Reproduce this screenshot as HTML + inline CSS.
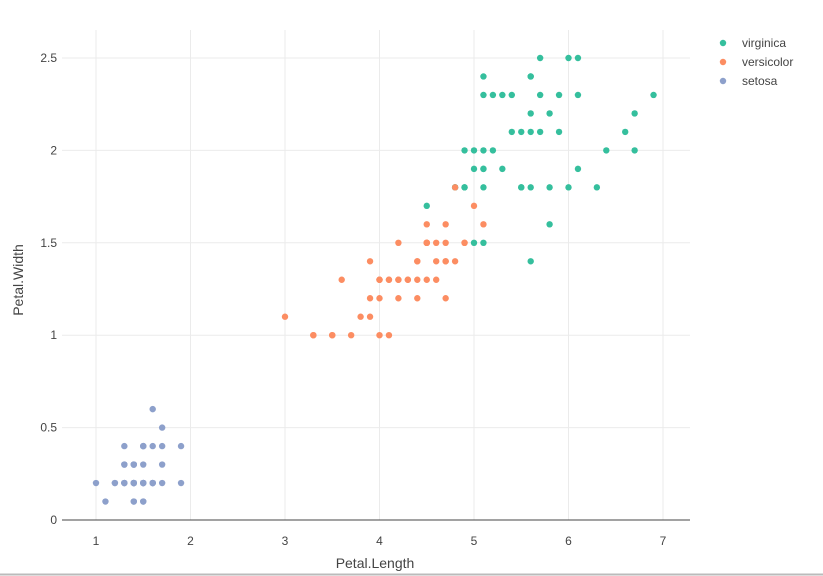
<!DOCTYPE html>
<html><head><meta charset="utf-8"><style>
body{margin:0;background:#fff;}
svg{display:block;font-family:"Liberation Sans",sans-serif;}
</style></head><body>
<svg id="s" width="823" height="576" xmlns="http://www.w3.org/2000/svg">
<rect width="823" height="576" fill="#fff"/>
<g id="grid" stroke="#ebebeb" stroke-width="1"></g>
<line x1="62" y1="520" x2="690" y2="520" stroke="#444" stroke-width="1"/>
<g id="ticks" fill="#444" font-size="12"></g>
<g id="pts"></g>
<text x="375" y="568" font-size="14" fill="#444" text-anchor="middle">Petal.Length</text>
<text transform="translate(23,280) rotate(-90)" font-size="14" fill="#444" text-anchor="middle">Petal.Width</text>
<circle cx="723" cy="43" r="3.2" fill="#35bf9d"/><text x="742" y="47" font-size="12" fill="#444">virginica</text>
<circle cx="723" cy="62" r="3.2" fill="#fc8d62"/><text x="742" y="66" font-size="12" fill="#444">versicolor</text>
<circle cx="723" cy="81" r="3.2" fill="#8da0cb"/><text x="742" y="85" font-size="12" fill="#444">setosa</text>
<line x1="0" y1="574.5" x2="823" y2="574.5" stroke="#bbb" stroke-width="2"/>
</svg>
<script>
var NS="http://www.w3.org/2000/svg";
function X(v){return 96+94.5*(v-1);}function Y(v){return 520-184.8*v;}
var g=document.getElementById("grid"),t=document.getElementById("ticks"),p=document.getElementById("pts");
function el(par,n,a,txt){var e=document.createElementNS(NS,n);for(var k in a)e.setAttribute(k,a[k]);if(txt)e.textContent=txt;par.appendChild(e);}
for(var i=1;i<=7;i++){el(g,"line",{x1:X(i),x2:X(i),y1:30,y2:520});el(t,"text",{x:X(i),y:545,"text-anchor":"middle"},""+i);}
[0,0.5,1,1.5,2,2.5].forEach(function(v){if(v>0)el(g,"line",{x1:62,x2:690,y1:Y(v),y2:Y(v)});el(t,"text",{x:57,y:Y(v)+4,"text-anchor":"end"},""+v);});
var vi="6.0 2.5,5.1 1.9,5.9 2.1,5.6 1.8,5.8 2.2,6.6 2.1,4.5 1.7,6.3 1.8,5.8 1.8,6.1 2.5,5.1 2.0,5.3 1.9,5.5 2.1,5.0 2.0,5.1 2.4,5.3 2.3,5.5 1.8,6.7 2.2,6.9 2.3,5.0 1.5,5.7 2.3,4.9 2.0,6.7 2.0,4.9 1.8,5.7 2.1,6.0 1.8,4.8 1.8,4.9 1.8,5.6 2.1,5.8 1.6,6.1 1.9,6.4 2.0,5.6 2.2,5.1 1.5,5.6 1.4,6.1 2.3,5.6 2.4,5.5 1.8,4.8 1.8,5.4 2.1,5.6 2.4,5.1 2.3,5.1 1.9,5.9 2.3,5.7 2.5,5.2 2.3,5.0 1.9,5.2 2.0,5.4 2.3,5.1 1.8";
var ve="4.7 1.4,4.5 1.5,4.9 1.5,4.0 1.3,4.6 1.5,4.5 1.3,4.7 1.6,3.3 1.0,4.6 1.3,3.9 1.4,3.5 1.0,4.2 1.5,4.0 1.0,4.7 1.4,3.6 1.3,4.4 1.4,4.5 1.5,4.1 1.0,4.5 1.5,3.9 1.1,4.8 1.8,4.0 1.3,4.9 1.5,4.7 1.2,4.3 1.3,4.4 1.4,4.8 1.4,5.0 1.7,4.5 1.5,3.5 1.0,3.8 1.1,3.7 1.0,3.9 1.2,5.1 1.6,4.5 1.5,4.5 1.6,4.7 1.5,4.4 1.3,4.1 1.3,4.0 1.3,4.4 1.2,4.6 1.4,4.0 1.2,3.3 1.0,4.2 1.3,4.2 1.2,4.2 1.3,4.3 1.3,3.0 1.1,4.1 1.3";
var se="1.4 .2,1.4 .2,1.3 .2,1.5 .2,1.4 .2,1.7 .4,1.4 .3,1.5 .2,1.4 .2,1.5 .1,1.5 .2,1.6 .2,1.4 .1,1.1 .1,1.2 .2,1.5 .4,1.3 .4,1.4 .3,1.7 .3,1.5 .3,1.7 .2,1.5 .4,1.0 .2,1.7 .5,1.9 .2,1.6 .2,1.6 .4,1.5 .2,1.4 .2,1.6 .2,1.6 .2,1.5 .4,1.5 .1,1.4 .2,1.5 .2,1.2 .2,1.3 .2,1.4 .1,1.3 .2,1.5 .2,1.3 .3,1.3 .3,1.3 .2,1.6 .6,1.9 .4,1.4 .3,1.6 .2,1.4 .2,1.5 .2,1.4 .2";
[[vi,"#35bf9d"],[ve,"#fc8d62"],[se,"#8da0cb"]].forEach(function(s){s[0].split(",").forEach(function(q){var a=q.split(" ");el(p,"circle",{cx:X(+a[0]),cy:Y(+a[1]),r:3.2,fill:s[1]});});});
</script>
</body></html>
